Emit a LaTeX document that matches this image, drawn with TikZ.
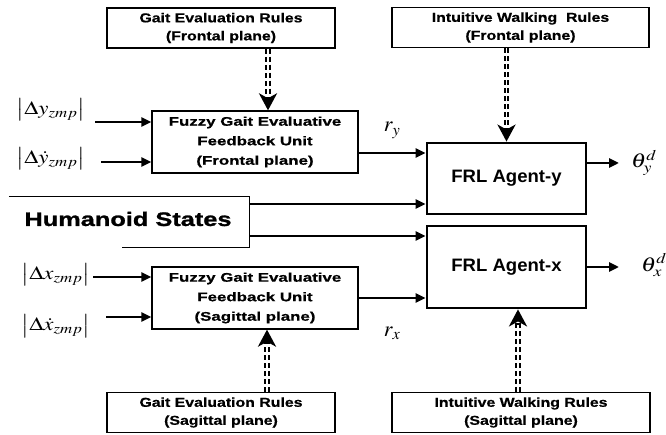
\documentclass[tikz,border=0pt]{standalone}
\usepackage{mathptmx}
\usepackage{fontspec}
\usepackage{tikz}
\usetikzlibrary{arrows.meta}

\newfontfamily\rulefont[FakeStretch=1.22,FakeBold=0.6]{Liberation Sans}
\newfontfamily\unitfont[FakeStretch=1.35,FakeBold=0.6]{Liberation Sans}
\newfontfamily\agentfont[FakeStretch=1.03]{Liberation Sans}
\newfontfamily\statefont[FakeStretch=1.3,FakeBold=1.2]{Liberation Sans}
\newcommand{\widemath}[1]{\scalebox{1.2}[1]{$#1$}}

\begin{document}
\begin{tikzpicture}[
        x=1pt, y=-1pt,
        rulebox/.style={draw, line width=1.1pt, minimum width=228pt, minimum height=40pt,
            inner sep=0pt, align=center, font=\rulefont\bfseries\fontsize{13}{18}\selectfont},
        unitbox/.style={draw, line width=1.3pt, minimum width=206pt, minimum height=62pt,
            inner sep=0pt, align=center, font=\unitfont\bfseries\fontsize{12.5}{19.5}\selectfont},
        agentbox/.style={draw, line width=2.8pt, minimum width=159pt, inner sep=0pt,
            font=\agentfont\bfseries\fontsize{18}{20}\selectfont},
        signal/.style={font=\fontsize{19}{22}\selectfont, inner sep=0pt},
        flow/.style={-{Triangle[length=10pt,width=9pt]}, line width=2.6pt},
        rulearrow/.style={-{Stealth[length=17pt,width=18pt,inset=5pt]}, line width=5.2pt,
            dash pattern=on 5pt off 3pt,
            postaction={draw=white, solid, line width=1.4pt, -, shorten >=16pt}}
    ]
    \useasboundingbox (0,0) rectangle (666,435);
    \clip (0,0) rectangle (666,435);

    % rule bases
    \node[rulebox] (gaitf) at (221,28) {Gait Evaluation Rules\\(Frontal plane)};
    \node[rulebox, minimum width=257pt] (walkf) at (520.5,27.5) {Intuitive Walking~ Rules\\(Frontal plane)};
    \node[rulebox] (gaits) at (221,412.5) {Gait Evaluation Rules\\(Sagittal plane)};
    \node[rulebox, minimum width=258pt] (walks) at (521,412.5) {Intuitive Walking Rules\\(Sagittal plane)};

    % evaluative units
    \node[unitbox] (unitf) at (255,142) {Fuzzy Gait Evaluative\\Feedback Unit\\(Frontal plane)};
    \node[unitbox] (units) at (255,298) {Fuzzy Gait Evaluative\\Feedback Unit\\(Sagittal plane)};

    % agents
    \node[agentbox, minimum height=71pt] (agenty) at (506.5,178.5) {FRL Agent-y};
    \node[agentbox, minimum height=82pt] (agentx) at (506.5,267) {FRL Agent-x};

    % humanoid states
    \node[minimum width=240pt, minimum height=50pt, inner sep=0pt] (states) at (129,222) {};
    \node[font=\statefont\bfseries\fontsize{19.5}{22}\selectfont] (statetext) at (128,219) {Humanoid States};
    \draw[line width=1.1pt] (states.north west) -- (states.north east) -- (states.south east)
        -- ([xshift=113pt]states.south west);

    % inputs
    \node[signal] (dyz) at (51,110) {\widemath{\left|\Delta y_{zmp}\right|}};
    \node[signal] (dyzdot) at (51,159) {\widemath{\left|\Delta \dot{y}_{zmp}\right|}};
    \node[signal] (dxz) at (56,275) {\widemath{\left|\Delta x_{zmp}\right|}};
    \node[signal] (dxzdot) at (56,326) {\widemath{\left|\Delta \dot{x}_{zmp}\right|}};

    \draw[flow] ([xshift=10pt,yshift=-12pt]dyz.east) -- ([yshift=20pt]unitf.west);
    \draw[flow] ([xshift=16pt,yshift=-3pt]dyzdot.east) -- ([yshift=-20pt]unitf.west);
    \draw[flow] ([xshift=3pt,yshift=-2pt]dxz.east) -- ([yshift=21pt]units.west);
    \draw[flow] ([xshift=16pt,yshift=9pt]dxzdot.east) -- ([yshift=-19pt]units.west);

    % rules into units and agents
    \draw[rulearrow] ([xshift=47pt]gaitf.south) -- ([xshift=13pt]unitf.north);
    \draw[rulearrow] (walkf.south -| agenty.north) -- (agenty.north);
    \draw[rulearrow] ([xshift=46pt]gaits.north) -- ([xshift=12pt]units.south);
    \draw[rulearrow] ([xshift=-3pt]walks.north) -- ([xshift=11.5pt]agentx.south);

    % rewards and states into agents
    \draw[flow] ([yshift=-11pt]unitf.east) -- ([yshift=25.5pt]agenty.west)
        node[pos=0.5, above=10pt, font=\fontsize{22}{24}\selectfont] (ry) {$r_y$};
    \draw[flow] (units.east) -- (units.east -| agentx.west)
        node[pos=0.5, below=24pt, font=\fontsize{22}{24}\selectfont] (rx) {$r_x$};
    \draw[flow] ([yshift=18pt]states.east) -- ([yshift=-25.5pt]agenty.west);
    \draw[flow] ([yshift=-14pt]states.east) -- ([yshift=31pt]agentx.west);

    % outputs
    \node[anchor=west, font=\fontsize{20}{22}\selectfont, inner sep=0pt] (thy) at (631,163) {\widemath{\theta_y^d}};
    \node[anchor=west, font=\fontsize{20}{22}\selectfont, inner sep=0pt] (thx) at (641,265) {\widemath{\theta_x^d}};
    \draw[flow] ([yshift=15.5pt]agenty.east) -- ([xshift=-12pt]thy.west);
    \draw[flow] (agentx.east) -- ([xshift=-22pt]thx.west |- agentx.east);

\end{tikzpicture}
\end{document}
